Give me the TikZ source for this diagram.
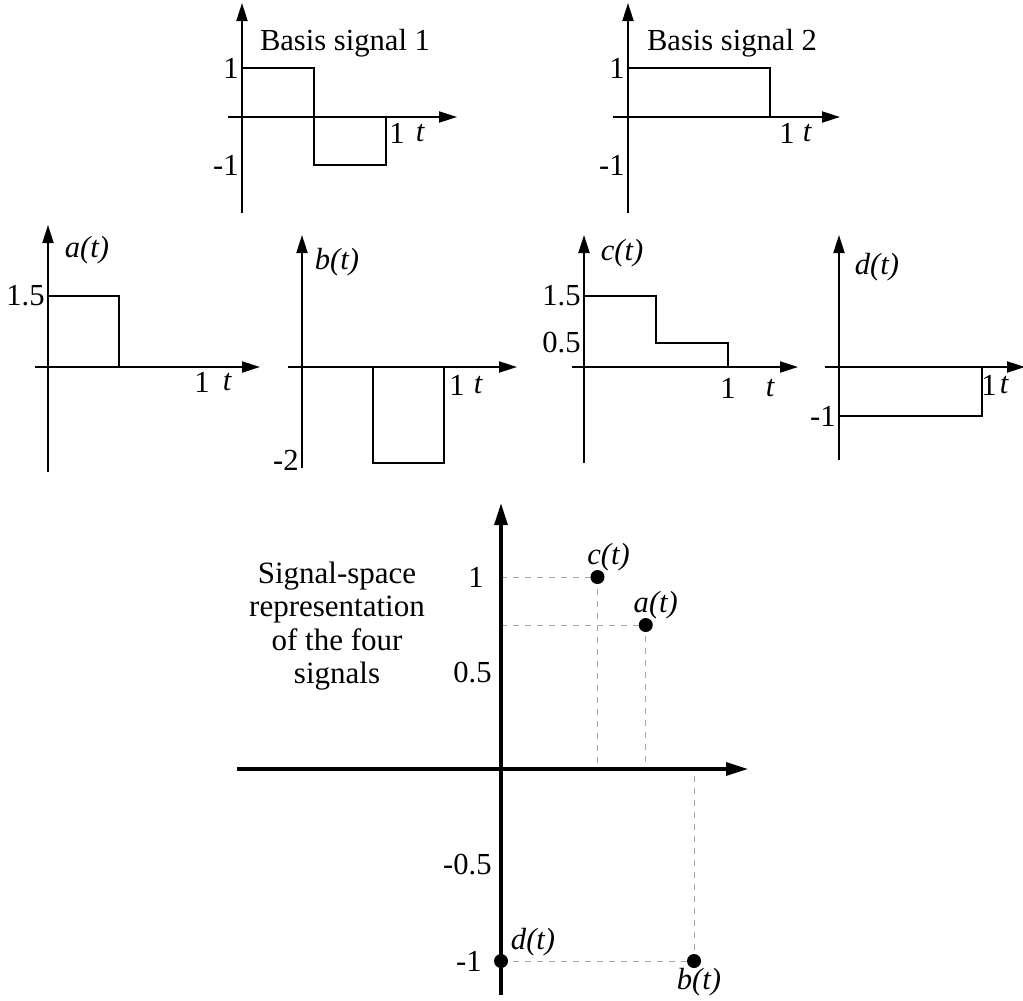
\documentclass[tikz,border=0pt]{standalone}
\usepackage{fontspec}
\setmainfont{Liberation Serif}
\usetikzlibrary{arrows.meta}

\begin{document}
\begin{tikzpicture}[x=0.5pt,y=-0.5pt,
  axis/.style={line width=1pt,-{Triangle[length=9pt,width=5.5pt]}},
  bigaxis/.style={line width=1.6pt,-{Triangle[length=11pt,width=6.5pt]}},
  sig/.style={line width=0.9pt},
  guide/.style={gray!70,line width=0.5pt,dash pattern=on 3pt off 3pt},
  dot/.style={circle,fill=black,inner sep=0pt,minimum size=7pt},
  lbl/.style={font=\fontsize{15.3}{17}\selectfont,inner sep=0pt},
  fn/.style={lbl,font=\fontsize{15.3}{17}\selectfont\itshape}]
\useasboundingbox (0,0) rectangle (1023,1001);

\begin{scope}[shift={(242,117)},y=0.5pt]
\draw[axis] (-14,0) -- (215,0);
\draw[axis] (0,-96) -- (0,114);
\draw[sig] (0,49) -- (72,49) -- (72,-48) -- (144,-48) -- (144,0);
\node[lbl,anchor=east] (b1_hi) at (-3,49) {1};
\node[lbl,anchor=east] (b1_lo) at (-3,-48) {-1};
\node[lbl] (b1_one) at (155,-16) {1};
\node[fn] (b1_t) at (178,-16) {t};
\node[lbl] (b1_title) at (103,74) {Basis signal 1};
\end{scope}

\begin{scope}[shift={(628,117)},y=0.5pt]
\draw[axis] (-15,0) -- (212,0);
\draw[axis] (0,-96) -- (0,114);
\draw[sig] (0,49) -- (142,49) -- (142,0);
\node[lbl,anchor=east] (b2_hi) at (-3,49) {1};
\node[lbl,anchor=east] (b2_lo) at (-3,-48) {-1};
\node[lbl] (b2_one) at (159,-16) {1};
\node[fn] (b2_t) at (179,-16) {t};
\node[lbl] (b2_title) at (104,74) {Basis signal 2};
\end{scope}

\begin{scope}[shift={(48,367)},y=0.5pt]
\draw[axis] (-13,0) -- (212,0);
\draw[axis] (0,-105) -- (0,142);
\draw[sig] (0,71) -- (71,71) -- (71,0);
\node[lbl,anchor=east] (a_hi) at (-3,71) {1.5};
\node[lbl] (a_one) at (154,-15) {1};
\node[fn] (a_t) at (179,-15) {t};
\node[fn] (a_name) at (39,117) {a(t)};
\end{scope}

\begin{scope}[shift={(302,367)},y=0.5pt]
\draw[axis] (-14,0) -- (215,0);
\draw[axis] (0,-101) -- (0,132);
\draw[sig] (71,0) -- (71,-96) -- (142,-96) -- (142,0);
\node[lbl,anchor=east] (b_lo) at (-3,-93) {-2};
\node[lbl] (b_one) at (155,-18) {1};
\node[fn] (b_t) at (176,-18) {t};
\node[fn] (b_name) at (35,105) {b(t)};
\end{scope}

\begin{scope}[shift={(584,367)},y=0.5pt]
\draw[axis] (-12,0) -- (214,0);
\draw[axis] (0,-96) -- (0,132);
\draw[sig] (0,71) -- (72,71) -- (72,24) -- (144,24) -- (144,0);
\node[lbl,anchor=east] (c_hi) at (-3,71) {1.5};
\node[lbl,anchor=east] (c_mid) at (-3,24) {0.5};
\node[lbl] (c_one) at (144,-21) {1};
\node[fn] (c_t) at (186,-21) {t};
\node[fn] (c_name) at (38,114) {c(t)};
\end{scope}

\begin{scope}[shift={(839,367)},y=0.5pt]
\draw[axis] (-14,0) -- (186,0);
\draw[axis] (0,-93) -- (0,132);
\draw[sig] (0,-49) -- (143,-49) -- (143,0);
\node[lbl,anchor=east] (d_lo) at (-3,-49) {-1};
\node[lbl] (d_one) at (150,-18) {1};
\node[fn] (d_t) at (165,-18) {t};
\node[fn] (d_name) at (38,100) {d(t)};
\end{scope}

\node[lbl,align=center,font=\fontsize{15.5}{16.75}\selectfont] (ss_text) at (337,626) {Signal-space\\representation\\of the four\\signals};

\begin{scope}[shift={(501,769)},x=96.5pt,y=96pt]
\coordinate (pc) at (0.5,1);
\coordinate (pa) at (0.75,0.75);
\coordinate (pb) at (1,-1);
\coordinate (pd) at (0,-1);
\draw[guide] (0,1) -- (pc) -- (0.5,0);
\draw[guide] (0,0.75) -- (pa) -- (0.75,0);
\draw[guide] (pd) -- (pb) -- (1,0);
\draw[bigaxis] (-1.368,0) -- (1.28,0);
\draw[bigaxis] (0,-1.177) -- (0,1.385);
\node[dot] (pc_dot) at (pc) {};
\node[dot] (pa_dot) at (pa) {};
\node[dot] (pb_dot) at (pb) {};
\node[dot] (pd_dot) at (pd) {};
\node[lbl,anchor=east,xshift=-8.5pt] (ss_one) at (0,1) {1};
\node[lbl,anchor=east,xshift=-4.5pt] (ss_half) at (0,0.5) {0.5};
\node[lbl,anchor=east,xshift=-4.5pt] (ss_nhalf) at (0,-0.5) {-0.5};
\node[lbl,anchor=east,xshift=-9.5pt] (ss_none) at (0,-1) {-1};
\node[fn] (lc) at (0.557,1.104) {c(t)};
\node[fn] (la) at (0.802,0.854) {a(t)};
\node[fn] (ld) at (0.166,-0.901) {d(t)};
\node[fn] (lb) at (1.026,-1.109) {b(t)};
\end{scope}
\end{tikzpicture}
\end{document}
